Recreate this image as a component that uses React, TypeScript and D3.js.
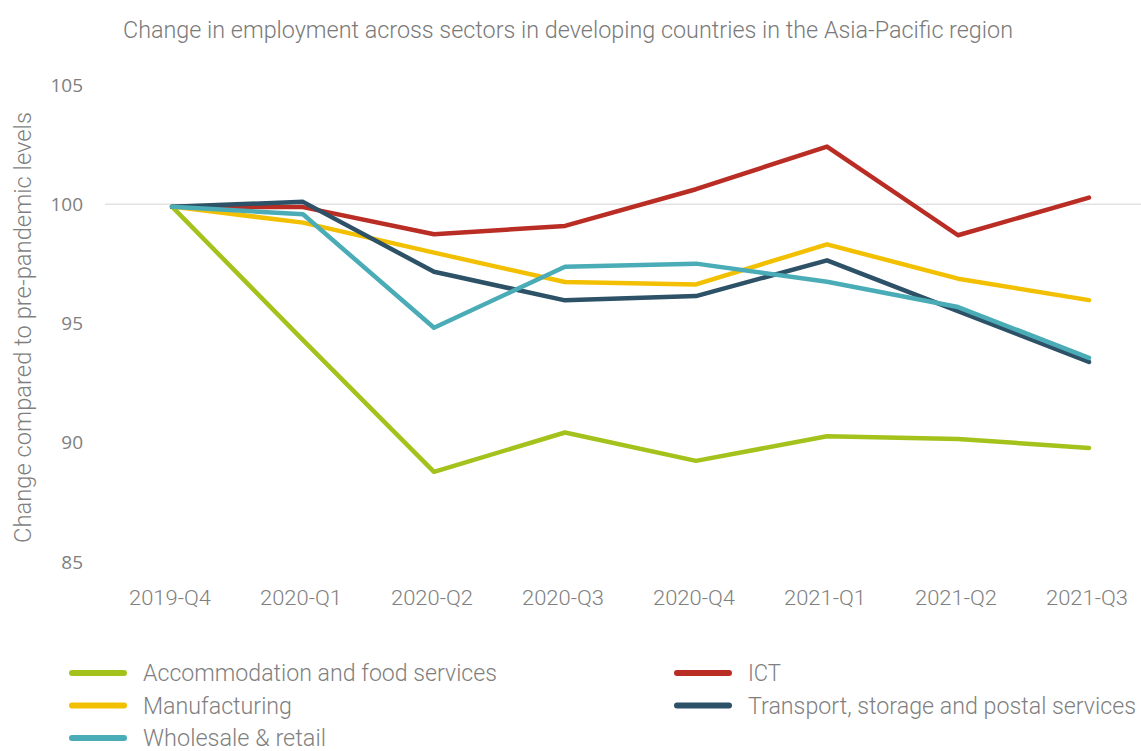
import React from "react";
import * as d3 from "d3";

const categories = ["2019-Q4", "2020-Q1", "2020-Q2", "2020-Q3", "2020-Q4", "2021-Q1", "2021-Q2", "2021-Q3"];

const accommodation = [99.9, 94.3, 88.78, 90.43, 89.24, 90.27, 90.16, 89.78];
const ict = [99.9, 99.88, 98.74, 99.09, 100.63, 102.42, 98.7, 100.28];
const manufacturing = [99.9, 99.23, 97.97, 96.74, 96.64, 98.32, 96.88, 95.98];
const transport = [99.9, 100.1, 97.17, 95.97, 96.15, 97.65, 95.52, 93.39];
const wholesale = [99.9, 99.58, 94.82, 97.38, 97.51, 96.75, 95.69, 93.56];

const seriesNames = [
  "Accommodation and food services",
  "ICT",
  "Manufacturing",
  "Transport, storage and postal services",
  "Wholesale & retail",
];
const seriesValues = [accommodation, ict, manufacturing, transport, wholesale];
const seriesColors = ["#a4c21c", "#b92d25", "#f2c000", "#2d5166", "#4aacb6"];

const yTicks = [85, 90, 95, 100, 105];

const title = "Change in employment across sectors in developing countries in the Asia-Pacific region";
const yTitle = "Change compared to pre-pandemic levels";

// approximate rendered widths of the condensed font in the reference
const legendTextWidths = [354, 33, 149, 388, 183];

export default function App() {
  const W = 1141;
  const H = 751;
  const x = d3.scalePoint<string>().domain(categories).range([172, 1089]);
  const y = d3.scaleLinear().domain([85, 105]).range([562, 85]);
  const line = d3
    .line<number>()
    .x((_, i) => x(categories[i]) as number)
    .y((d) => y(d));

  const condensed = "Roboto, 'Liberation Sans', sans-serif";
  const gray = "#7f7f7f";

  return (
    <svg
      width={W}
      height={H}
      style={{ position: "absolute", left: 0, top: 0, background: "#fff" }}
    >
      <rect x={0} y={0} width={W} height={H} fill="#fff" />
      <text
        x={123}
        y={38}
        fontFamily={condensed}
        fontWeight={300}
        fontSize={23}
        fill="#7a7a7a"
        textLength={890}
        lengthAdjust="spacingAndGlyphs"
      >
        {title}
      </text>

      {/* gridline at 100 */}
      <line x1={105} x2={1141} y1={y(100)} y2={y(100)} stroke="#e3e3e3" strokeWidth={1.5} />

      {/* y tick labels */}
      {yTicks.map((t) => (
        <text
          key={t}
          x={83}
          y={y(t)}
          dy="0.35em"
          textAnchor="end"
          fontFamily="'Open Sans', sans-serif"
          fontSize={19}
          fill={gray}
        >
          {t}
        </text>
      ))}

      {/* y title */}
      <text
        transform={`translate(31, ${(112 + 543) / 2}) rotate(-90)`}
        textAnchor="middle"
        fontFamily={condensed}
        fontWeight={300}
        fontSize={23}
        fill={gray}
        textLength={431}
        lengthAdjust="spacingAndGlyphs"
      >
        {yTitle}
      </text>

      {/* x labels */}
      {categories.map((c) => (
        <text
          key={c}
          x={(x(c) as number) - 2}
          y={605}
          textAnchor="middle"
          fontFamily={condensed}
          fontWeight={300}
          fontSize={20}
          fill={gray}
          textLength={82}
          lengthAdjust="spacingAndGlyphs"
        >
          {c}
        </text>
      ))}

      {/* lines */}
      {seriesValues.map((vals, i) => (
        <path
          key={seriesNames[i]}
          d={line(vals) || ""}
          fill="none"
          stroke={seriesColors[i]}
          strokeWidth={4.5}
          strokeLinejoin="round"
          strokeLinecap="round"
        />
      ))}

      {/* legend */}
      {seriesNames.map((name, i) => {
        const col = i % 2;
        const row = Math.floor(i / 2);
        const lx = col === 0 ? 70 : 675;
        const ly = 673 + row * 32.5;
        return (
          <g key={name}>
            <line
              x1={lx + 2}
              x2={lx + 54}
              y1={ly}
              y2={ly}
              stroke={seriesColors[i]}
              strokeWidth={6}
              strokeLinecap="round"
            />
            <text
              x={lx + 73}
              y={ly}
              dy="0.35em"
              fontFamily={condensed}
              fontWeight={300}
              fontSize={23}
              fill={gray}
              textLength={legendTextWidths[i]}
              lengthAdjust="spacingAndGlyphs"
            >
              {name}
            </text>
          </g>
        );
      })}
    </svg>
  );
}
